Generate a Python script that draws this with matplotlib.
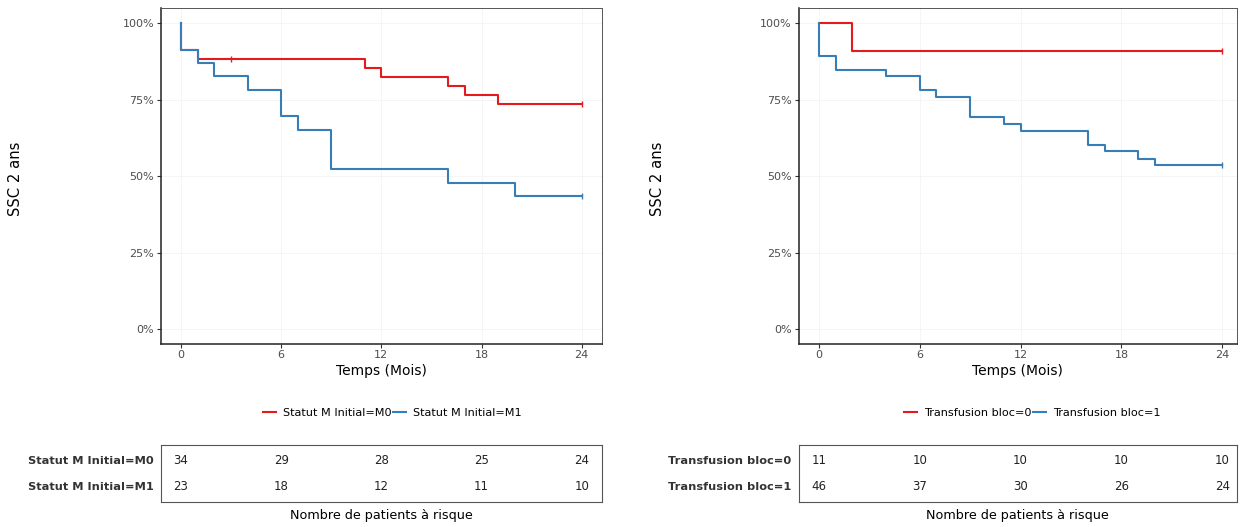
import numpy as np
import matplotlib
matplotlib.use('Agg')
import matplotlib.pyplot as plt
from matplotlib.ticker import FuncFormatter

# couleurs (palette Set1)
ROUGE = '#E41A1C'
BLEU = '#377EB8'

# --- courbes de Kaplan-Meier ---
# Statut M initial
m0_temps = [0, 0, 1, 11, 12, 16, 17, 19, 24]
m0_surv = [1.0, 0.912, 0.882, 0.853, 0.824, 0.794, 0.765, 0.735, 0.735]
m0_censures_t = [3, 24]
m0_censures_s = [0.882, 0.735]

m1_temps = [0, 0, 1, 2, 4, 6, 7, 9, 16, 20, 24]
m1_surv = [1.0, 0.913, 0.870, 0.826, 0.783, 0.696, 0.652, 0.522, 0.478, 0.435, 0.435]
m1_censures_t = [24]
m1_censures_s = [0.435]

# Transfusion bloc
tb0_temps = [0, 2, 24]
tb0_surv = [1.0, 0.909, 0.909]
tb0_censures_t = [24]
tb0_censures_s = [0.909]

tb1_temps = [0, 0, 1, 4, 6, 7, 9, 11, 12, 16, 17, 19, 20, 24]
tb1_surv = [1.0, 0.891, 0.847, 0.826, 0.782, 0.758, 0.692, 0.670, 0.648,
            0.602, 0.581, 0.557, 0.535, 0.535]
tb1_censures_t = [24]
tb1_censures_s = [0.535]

# tableau des patients a risque
temps_risque = [0, 6, 12, 18, 24]
risque_m0 = [34, 29, 28, 25, 24]
risque_m1 = [23, 18, 12, 11, 10]
risque_tb0 = [11, 10, 10, 10, 10]
risque_tb1 = [46, 37, 30, 26, 24]

W, H = 1244, 527
fig = plt.figure(figsize=(W / 100, H / 100), dpi=100)


def px(x0, y0, x1, y1):
    # rectangle en pixels (origine en haut a gauche) -> coordonnees figure
    return [x0 / W, 1 - y1 / H, (x1 - x0) / W, (y1 - y0) / H]


def panneau(rect, xmax, courbes, noms, pos_ylabel):
    ax = fig.add_axes(rect)
    for (t, s, ct, cs), couleur, nom in zip(courbes, [ROUGE, BLEU], noms):
        ax.step(t, s, where='post', color=couleur, lw=1.5, label=nom)
        ax.plot(ct, cs, ls='none', marker='|', ms=4, mew=1, color=couleur)
    ax.set_xlim(-1.2, xmax)
    ax.set_ylim(-0.046, 1.049)
    ax.set_xticks([0, 6, 12, 18, 24])
    ax.set_yticks([0, 0.25, 0.5, 0.75, 1.0])
    ax.yaxis.set_major_formatter(FuncFormatter(lambda v, p: f'{v * 100:.0f}%'))
    ax.grid(True, color='#f2f2f2', lw=0.5)
    ax.tick_params(labelsize=8, labelcolor='#4d4d4d', color='#333333',
                   length=3, width=0.8, pad=2)
    for cote in ['left', 'bottom']:
        ax.spines[cote].set_color('#222222')
        ax.spines[cote].set_linewidth(1.1)
    for cote in ['top', 'right']:
        ax.spines[cote].set_color('#555555')
        ax.spines[cote].set_linewidth(0.7)
    ax.set_xlabel('Temps (Mois)', fontsize=10)
    ax.xaxis.set_label_coords(0.5, -0.062)
    ax.set_ylabel('SSC 2 ans', fontsize=10.6)
    ax.yaxis.set_label_coords(pos_ylabel, 0.49)
    return ax


def tableau(rect, xmax, lignes, noms):
    ax = fig.add_axes(rect)
    ax.set_xlim(-1.2, xmax)
    ax.set_ylim(0, 1)
    ax.set_xticks([])
    ax.set_yticks([])
    for sp in ax.spines.values():
        sp.set_color('#555555')
        sp.set_linewidth(0.8)
    for valeurs, nom, y in zip(lignes, noms, [0.72, 0.27]):
        for t, n in zip(temps_risque, valeurs):
            ax.text(t, y, str(n), ha='center', va='center', fontsize=8.5,
                    color='#222222')
        ax.text(-0.016, y, nom, transform=ax.transAxes, ha='right',
                va='center', fontsize=8.2, fontweight='bold', color='#333333')
    ax.text(0.5, -0.23, 'Nombre de patients à risque', transform=ax.transAxes,
            ha='center', va='center', fontsize=9.2)
    return ax


noms_m = ['Statut M Initial=M0', 'Statut M Initial=M1']
ax1 = panneau(px(161, 8, 601.7, 343.5), 25.2,
              [(m0_temps, m0_surv, m0_censures_t, m0_censures_s),
               (m1_temps, m1_surv, m1_censures_t, m1_censures_s)], noms_m,
              -0.313)
tableau(px(161, 445, 601.7, 502), 25.2, [risque_m0, risque_m1], noms_m)

noms_tb = ['Transfusion bloc=0', 'Transfusion bloc=1']
ax2 = panneau(px(798.5, 8, 1236.7, 343.5), 24.85,
              [(tb0_temps, tb0_surv, tb0_censures_t, tb0_censures_s),
               (tb1_temps, tb1_surv, tb1_censures_t, tb1_censures_s)], noms_tb,
              -0.305)
tableau(px(798.5, 445, 1236.7, 502), 24.85, [risque_tb0, risque_tb1], noms_tb)

# legendes sous chaque graphique
for ax, xc in [(ax1, 392), (ax2, 1032)]:
    fig.legend(*ax.get_legend_handles_labels(), loc='center',
               bbox_to_anchor=(xc / W, 1 - 413 / H), ncol=2, frameon=False,
               fontsize=8.1, handlelength=1.2, handletextpad=0.6,
               columnspacing=0.1)

fig.savefig('out.png', dpi=100)
